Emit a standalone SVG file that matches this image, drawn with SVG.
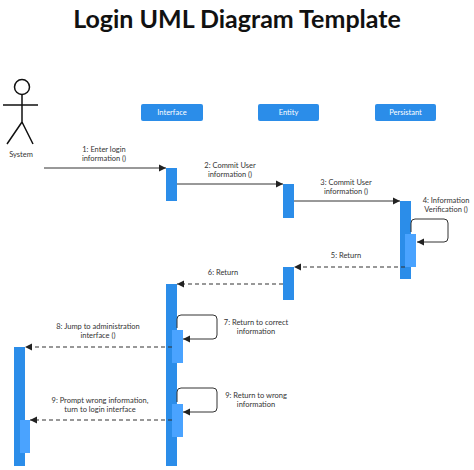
<svg xmlns="http://www.w3.org/2000/svg" width="474" height="470" viewBox="0 0 474 470">
<style>
.t{font-family:Lato,"Liberation Sans",sans-serif;font-size:7.5px;fill:#333;text-anchor:middle}
.h{font-family:Lato,"Liberation Sans",sans-serif;font-size:7.5px;fill:#fff;text-anchor:middle}
.a{fill:#2b8de9}.b{fill:#4aa3ff}
.m{stroke:#333;stroke-width:1;fill:none}
.d{stroke:#333;stroke-width:1.2;fill:none;stroke-dasharray:4,3}
</style>
<defs><marker id="ar" markerWidth="8" markerHeight="8" refX="7" refY="4" orient="auto" markerUnits="userSpaceOnUse"><path d="M0,0.5 L7,4 L0,7.5z" fill="#222"/></marker></defs>
<rect width="474" height="470" fill="#fff"/>
<text x="237" y="28" font-family="Lato,'Liberation Sans',sans-serif" font-size="25" font-weight="bold" fill="#111" text-anchor="middle">Login UML Diagram Template</text>
<g id="system" stroke="#111" stroke-width="1.5" fill="none">
<circle cx="22" cy="87" r="7.5"/><path d="M22 95V122M3 105H38M22 122L7 144M22 122L33 144"/>
<text x="21" y="157" class="t" stroke="none">System</text>
</g>
<g id="interface"><rect x="141" y="104" width="62" height="17" rx="2" class="a"/><text x="172" y="115" class="h">Interface</text></g>
<g id="entity"><rect x="258" y="104" width="61" height="17" rx="2" class="a"/><text x="288.5" y="115" class="h">Entity</text></g>
<g id="persistant"><rect x="375" y="104" width="61" height="17" rx="2" class="a"/><text x="405.5" y="115" class="h">Persistant</text></g>
<g id="activations">
<rect x="166" y="168" width="11" height="33" class="a"/>
<rect x="283" y="184" width="11" height="34" class="a"/>
<rect x="400" y="201" width="11" height="78" class="a"/>
<rect x="405" y="234" width="11" height="33" class="b"/>
<rect x="283" y="267" width="11" height="33" class="a"/>
<rect x="166" y="284" width="11" height="182" class="a"/>
<rect x="172" y="330" width="11" height="33" class="b"/>
<rect x="172" y="404" width="11" height="33" class="b"/>
<rect x="14" y="347" width="11" height="119" class="a"/>
<rect x="20" y="420" width="10" height="33" class="b"/>
</g>
<g id="connectors">
<path d="M44 168H166" class="m" marker-end="url(#ar)"/>
<path d="M177 184H283" class="m" marker-end="url(#ar)"/>
<path d="M294 201H400" class="m" marker-end="url(#ar)"/>
<path d="M411 232V223Q411 219 415 219H444Q448 219 448 223V238Q448 242 444 242H417" class="m" marker-end="url(#ar)"/>
<path d="M405 267H294" class="d" marker-end="url(#ar)"/>
<path d="M283 284H177" class="d" marker-end="url(#ar)"/>
<path d="M177 328V319Q177 315 181 315H213Q217 315 217 319V335Q217 339 213 339H183" class="m" marker-end="url(#ar)"/>
<path d="M172 347H25" class="d" marker-end="url(#ar)"/>
<path d="M177 402V392Q177 388 181 388H213Q217 388 217 392V408Q217 412 213 412H183" class="m" marker-end="url(#ar)"/>
<path d="M172 420H30" class="d" marker-end="url(#ar)"/>
</g>
<g id="labels">
<text x="104" y="152" class="t">1: Enter login</text><text x="104" y="161" class="t">information ()</text>
<text x="230" y="168" class="t">2: Commit User</text><text x="230" y="177" class="t">information ()</text>
<text x="346" y="185" class="t">3: Commit User</text><text x="346" y="194" class="t">information ()</text>
<text x="446" y="203" class="t">4: Information</text><text x="446" y="212" class="t">Verification ()</text>
<text x="346" y="258" class="t">5: Return</text>
<text x="223" y="275" class="t">6: Return</text>
<text x="256" y="325" class="t">7: Return to correct</text><text x="256" y="334" class="t">information</text>
<text x="98" y="329" class="t">8: Jump to administration</text><text x="98" y="338" class="t">interface ()</text>
<text x="256" y="398" class="t">9: Return to wrong</text><text x="256" y="407" class="t">information</text>
<text x="100" y="403" class="t">9: Prompt wrong information,</text><text x="100" y="412" class="t">turn to login interface</text>
</g>
</svg>
